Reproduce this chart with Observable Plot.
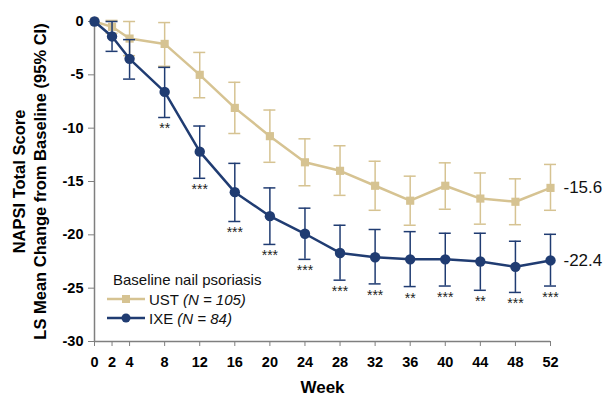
<!DOCTYPE html>
<html>
<head>
<meta charset="utf-8">
<script src="https://cdn.jsdelivr.net/npm/d3@7"></script>
<script src="https://cdn.jsdelivr.net/npm/@observablehq/plot@0.6"></script>
<style>
  html, body { margin: 0; padding: 0; background: #fff; }
  #wrap { position: relative; width: 605px; height: 399px; font-family: "Liberation Sans", Arial, sans-serif; }
  #legend { position: absolute; left: 0; top: 0; pointer-events: none; }
</style>
</head>
<body>
<div id="wrap"></div>
<script>
// ---- data ----
const weeks = [0, 2, 4, 8, 12, 16, 20, 24, 28, 32, 36, 40, 44, 48, 52];
const ustMean = [0, -0.5, -1.6, -2.1, -5.0, -8.1, -10.75, -13.2, -14.0, -15.4, -16.8, -15.4, -16.6, -16.9, -15.6];
const ustLo = [null, -1.1, -3.2, -4.2, -7.15, -10.5, -13.2, -15.4, -16.3, -17.7, -19.1, -17.6, -19.0, -19.05, -17.7];
const ustHi = [null, 0.1, 0.0, -0.1, -2.9, -5.7, -8.3, -11.0, -11.65, -13.1, -14.5, -13.25, -14.2, -14.75, -13.4];
const ixeMean = [0, -1.4, -3.5, -6.6, -12.2, -16.0, -18.25, -19.9, -21.7, -22.1, -22.3, -22.3, -22.5, -23.0, -22.4];
const ixeLo = [null, -2.8, -5.4, -9.0, -14.7, -18.75, -20.9, -22.3, -24.25, -24.6, -24.85, -24.8, -25.2, -25.4, -24.8];
const ixeHi = [null, 0.0, -1.7, -4.3, -9.8, -13.3, -15.6, -17.5, -19.1, -19.5, -19.7, -19.85, -19.85, -20.6, -19.95];
const sig = ["", "", "", "**", "***", "***", "***", "***", "***", "***", "**", "***", "**", "***", "***"];
const xTicks = [0, 2, 4, 8, 12, 16, 20, 24, 28, 32, 36, 40, 44, 48, 52];
const yTicks = [0, -5, -10, -15, -20, -25, -30];
const endLabels = ["-15.6", "-22.4"];
const seriesNames = ["UST", "IXE"];
const seriesN = ["105", "84"];
const legendTitle = "Baseline nail psoriasis";
const yTitle1 = "NAPSI Total Score";
const yTitle2 = "LS Mean Change from Baseline (95% CI)";
const xTitle = "Week";

const TAN = "#d6c392";
const NAVY = "#203c72";
const AXIS = "#7f7f7f";

const ust = weeks.map((w, i) => ({week: w, v: ustMean[i], lo: ustLo[i], hi: ustHi[i]}));
const ixe = weeks.map((w, i) => ({week: w, v: ixeMean[i], lo: ixeLo[i], hi: ixeHi[i], sig: sig[i]}));
const ustErr = ust.filter(d => d.lo != null);
const ixeErr = ixe.filter(d => d.lo != null);
const ends = [
  {week: weeks[weeks.length - 1], v: ustMean[ustMean.length - 1], label: endLabels[0]},
  {week: weeks[weeks.length - 1], v: ixeMean[ixeMean.length - 1], label: endLabels[1]}
];

function errMarks(data, color) {
  return [
    Plot.ruleX(data, {x: "week", y1: "lo", y2: "hi", stroke: color, strokeWidth: 1.5}),
    Plot.ruleY(data, {y: "lo", x1: "week", x2: "week", insetLeft: -6, insetRight: -6, stroke: color, strokeWidth: 1.5}),
    Plot.ruleY(data, {y: "hi", x1: "week", x2: "week", insetLeft: -6, insetRight: -6, stroke: color, strokeWidth: 1.5})
  ];
}

const chart = Plot.plot({
  width: 605,
  height: 399,
  marginLeft: 94,
  marginRight: 55,
  marginTop: 21,
  marginBottom: 58,
  x: {domain: [0, 52]},
  y: {domain: [-30, 0]},
  style: {fontFamily: "'Liberation Sans', Arial, sans-serif", background: "#fff", color: "#000"},
  marks: [
    Plot.axisY({ticks: yTicks, tickSize: 6, tickPadding: 5, fontSize: 14.5, fontWeight: "bold", stroke: AXIS, fill: "#000", label: null, tickFormat: d => String(d)}),
    Plot.axisX({ticks: xTicks, tickSize: 5, tickPadding: 10, fontSize: 14.5, fontWeight: "bold", stroke: AXIS, fill: "#000", label: null}),
    Plot.ruleX([0], {stroke: AXIS, strokeWidth: 1.5}),
    Plot.ruleY([-30], {stroke: AXIS, strokeWidth: 1.5}),
    ...errMarks(ustErr, TAN),
    Plot.line(ust, {x: "week", y: "v", stroke: TAN, strokeWidth: 2.5}),
    Plot.dot(ust, {x: "week", y: "v", symbol: "square", r: 4.6, fill: TAN, stroke: null}),
    ...errMarks(ixeErr, NAVY),
    Plot.line(ixe, {x: "week", y: "v", stroke: NAVY, strokeWidth: 2.5}),
    Plot.dot(ixe, {x: "week", y: "v", r: 5.2, fill: NAVY, stroke: null}),
    Plot.text(ixeErr, {x: "week", y: "lo", text: "sig", lineAnchor: "top", dy: 6, fontSize: 14, fill: "#222"}),
    Plot.text(ends, {x: "week", y: "v", text: "label", textAnchor: "start", dx: 13, fontSize: 17, fill: "#111"}),
    Plot.text([yTitle1], {frameAnchor: "left", textAnchor: "middle", lineAnchor: "middle", rotate: -90, dx: -75, fontSize: 16.5, fontWeight: "bold", fill: "#000"}),
    Plot.text([yTitle2], {frameAnchor: "left", textAnchor: "middle", lineAnchor: "middle", rotate: -90, dx: -54, fontSize: 16.5, fontWeight: "bold", fill: "#000"}),
    Plot.text([xTitle], {frameAnchor: "bottom", textAnchor: "middle", dy: 51, fontSize: 17, fontWeight: "bold", fill: "#000"})
  ]
});

const wrap = document.getElementById("wrap");
wrap.appendChild(chart);

// legend overlay
const ns = "http://www.w3.org/2000/svg";
const lg = document.createElementNS(ns, "svg");
lg.setAttribute("id", "legend");
lg.setAttribute("width", 605);
lg.setAttribute("height", 399);
lg.style.fontFamily = "'Liberation Sans', Arial, sans-serif";
function el(tag, attrs, parent) {
  const e = document.createElementNS(ns, tag);
  for (const k in attrs) e.setAttribute(k, attrs[k]);
  parent.appendChild(e);
  return e;
}
const t0 = el("text", {x: 113, y: 284.5, "font-size": 15, fill: "#111"}, lg);
t0.textContent = legendTitle;
const colors = [TAN, NAVY];
const rows = [299, 318];
seriesNames.forEach((name, i) => {
  const y = rows[i];
  el("line", {x1: 107, x2: 145, y1: y, y2: y, stroke: colors[i], "stroke-width": 2.5}, lg);
  if (i === 0) el("rect", {x: 126 - 4, y: y - 4, width: 8, height: 8, fill: colors[i]}, lg);
  else el("circle", {cx: 126, cy: y, r: 4.5, fill: colors[i]}, lg);
  const t = el("text", {x: 149, y: y + 5.5, "font-size": 15, fill: "#111"}, lg);
  const a = el("tspan", {}, t); a.textContent = name + " ";
  const b = el("tspan", {"font-style": "italic"}, t); b.textContent = "(N = " + seriesN[i] + ")";
});
wrap.appendChild(lg);
</script>
</body>
</html>
